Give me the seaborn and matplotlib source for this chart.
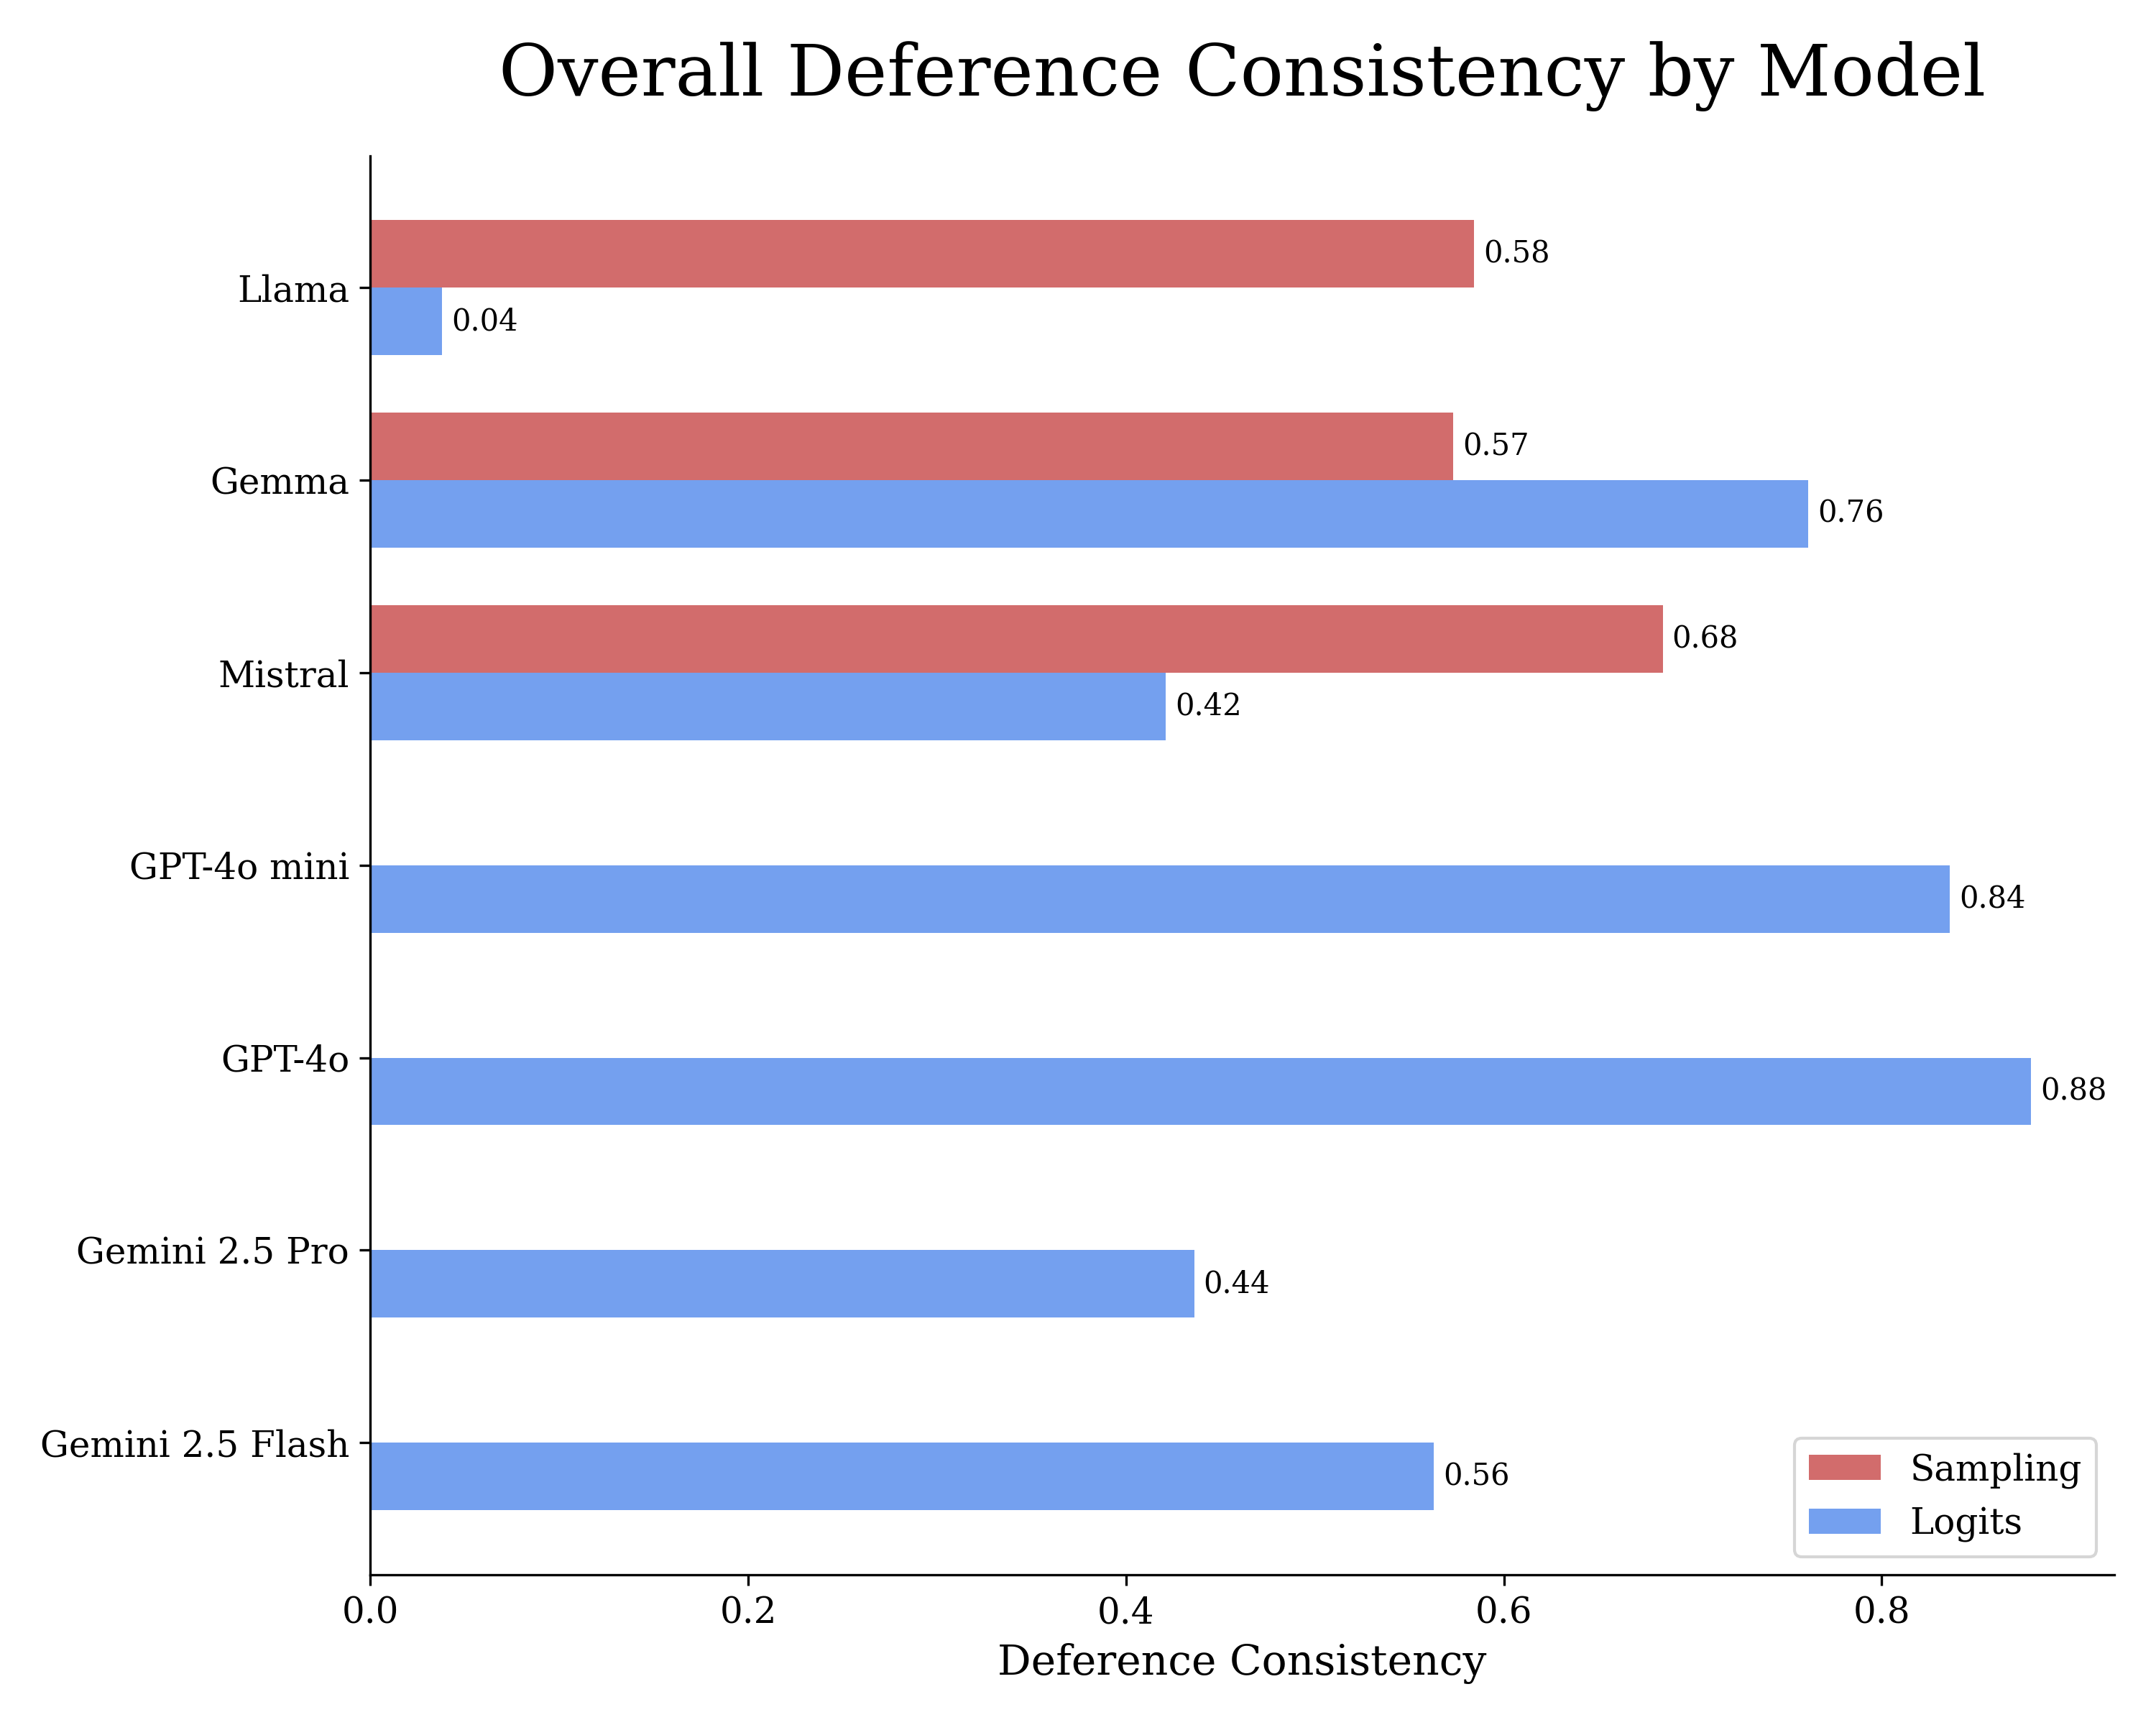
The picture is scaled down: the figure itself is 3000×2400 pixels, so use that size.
import numpy as np
import pandas as pd
import matplotlib
matplotlib.use("Agg")
import matplotlib.pyplot as plt
import seaborn as sns

modelos = ["Llama", "Gemma", "Mistral", "GPT-4o mini", "GPT-4o", "Gemini 2.5 Pro", "Gemini 2.5 Flash"]
sampling = [0.584, 0.573, 0.684, np.nan, np.nan, np.nan, np.nan]
logits = [0.038, 0.761, 0.421, 0.836, 0.879, 0.436, 0.563]
metodos = ["Sampling", "Logits"]
cores = {"Sampling": "#D26C6C", "Logits": "#74A0EF"}

dados = pd.DataFrame({
    "Model": modelos * 2,
    "Method": ["Sampling"] * len(modelos) + ["Logits"] * len(modelos),
    "Value": sampling + logits,
})

plt.rcParams["font.family"] = "serif"
plt.rcParams["font.serif"] = ["DejaVu Serif"]

fig, ax = plt.subplots(figsize=(10, 8))
sns.barplot(data=dados, y="Model", x="Value", hue="Method", order=modelos,
            hue_order=metodos, palette=cores, orient="h", width=0.7,
            saturation=1, ax=ax)

for container in ax.containers:
    for barra in container:
        w = barra.get_width()
        if np.isnan(w) or w == 0:
            continue
        ax.text(w + 0.005, barra.get_y() + barra.get_height() / 2, f"{w:.2f}",
                va="center", ha="left", fontsize=10)

ax.set_ylim(len(modelos) - 1 + 0.685, -0.685)
ax.set_title("Overall Deference Consistency by Model", fontsize=24, pad=20)
ax.set_xlabel("Deference Consistency", fontsize=14)
ax.set_ylabel("")
ax.tick_params(axis="both", labelsize=12)
sns.despine(ax=ax)
sns.move_legend(ax, "lower right", title=None, fontsize=12)

plt.tight_layout(pad=1.4)
plt.savefig("out.png", dpi=300)
